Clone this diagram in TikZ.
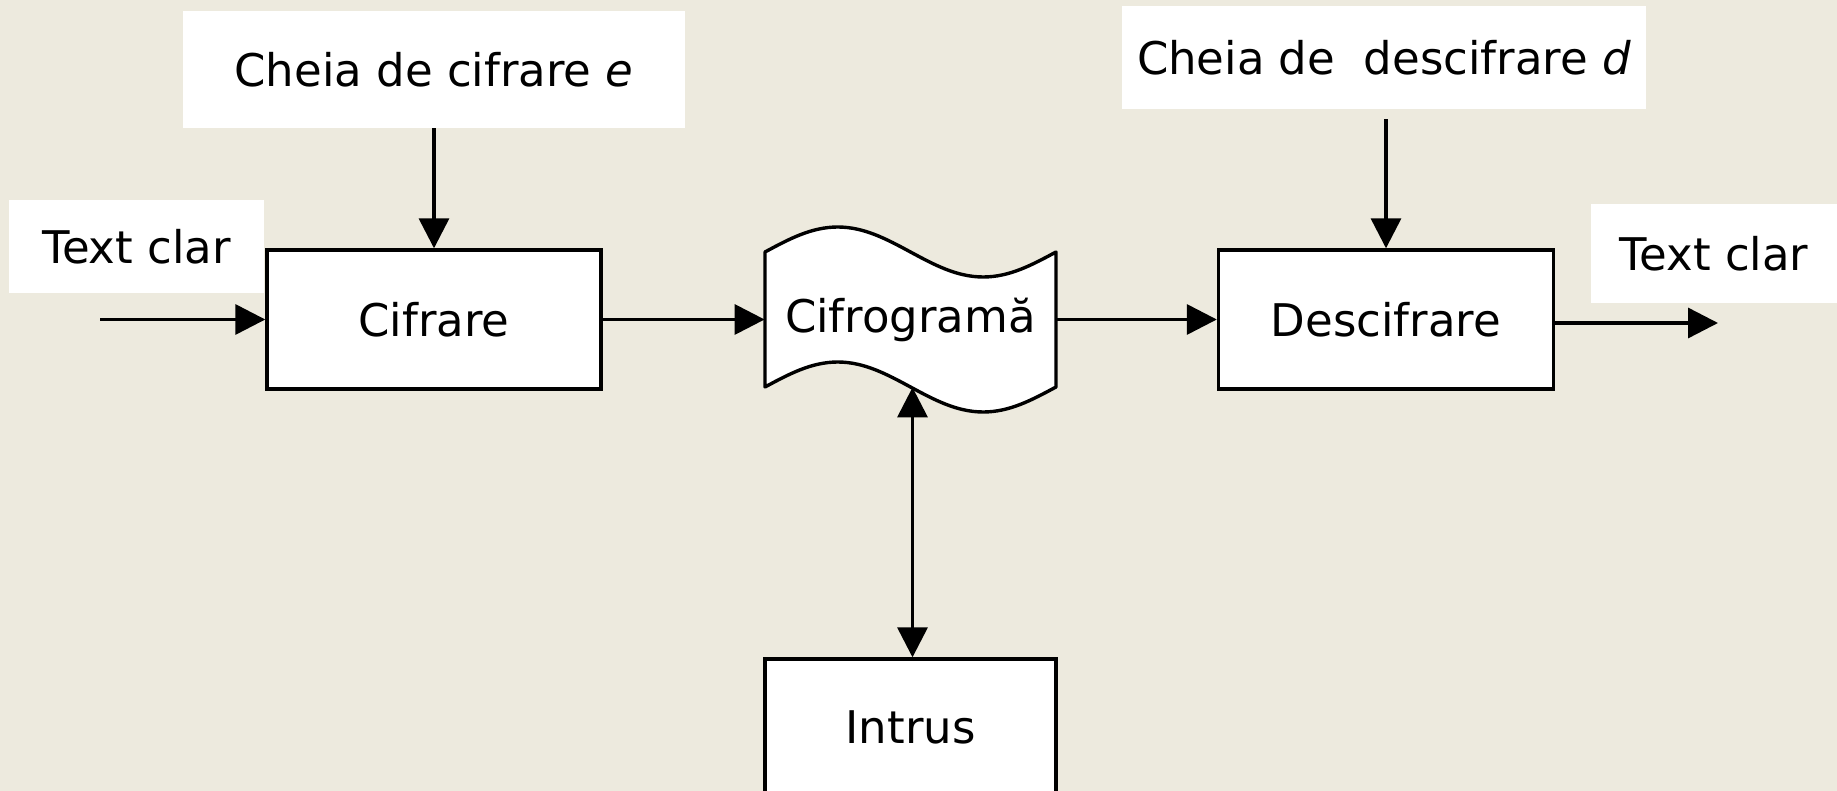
\documentclass[tikz,border=0pt]{standalone}
\usepackage{fontspec}
\setmainfont{DejaVu Sans}
\usetikzlibrary{arrows.meta}
\definecolor{bgc}{RGB}{237,234,222}
\tikzset{
  txt/.style={font=\fontsize{22.5}{27}\selectfont, inner sep=0pt},
  labelbox/.style={txt, fill=white, draw=none},
  procbox/.style={txt, fill=white, draw=black, line width=1.7pt},
  arr/.style={-{Triangle[length=15pt,width=15pt]}, line width=1.7pt},
  darr/.style={{Triangle[length=15pt,width=15pt]}-{Triangle[length=15pt,width=15pt]}, line width=1.7pt}
}
\begin{document}
\begin{tikzpicture}[x=0.5pt,y=-0.5pt]
\useasboundingbox[fill=bgc] (0,0) rectangle (1837,791);
% label boxes
\node[labelbox, minimum width=251pt, minimum height=58.5pt] (ke) at (434,69.5) {Cheia de cifrare \textit{e}};
\node[labelbox, minimum width=262pt, minimum height=51.5pt] (kd) at (1384,57.5) {Cheia de\ \ descifrare \textit{d}};
\node[labelbox, minimum width=127.5pt, minimum height=46.5pt] (tl) at (136.5,246.5) {Text clar};
\node[labelbox, minimum width=123pt, minimum height=49.5pt] (tr) at (1714,253.5) {Text clar};
% process boxes
\node[procbox, minimum width=167pt, minimum height=69.5pt] (cif) at (434,319.5) {Cifrare};
\node[procbox, minimum width=167.5pt, minimum height=69.5pt] (desc) at (1386,319.5) {Descifrare};
\node[procbox, minimum width=145.5pt, minimum height=68pt] (intr) at (910.5,727) {Intrus};
% cifrograma wave shape
\fill[white] (765,252) sin (837.75,227) cos (910.5,252) sin (983.25,277) cos (1056,252)
  -- (1056,387) sin (983.25,412) cos (910.5,387) sin (837.75,362) cos (765,387) -- cycle;
\draw[line width=1.7pt, line join=round] (765,252) sin (837.75,227) cos (910.5,252) sin (983.25,277) cos (1056,252)
  -- (1056,387) sin (983.25,412) cos (910.5,387) sin (837.75,362) cos (765,387) -- cycle;
\node[txt, minimum width=145.5pt, minimum height=67.5pt] (cg) at (910.5,319.5) {Cifrogramă};
% connectors
\coordinate (in) at (100,319.5);
\coordinate (out) at (1718,323);
\draw[arr] (in) -- (cif.west);
\draw[arr] (ke.south) -- (cif.north);
\draw[arr] (cif.east) -- (cg.west);
\draw[arr] (cg.east) -- (desc.west);
\draw[arr] ([yshift=-5pt]kd.south -| desc.north) -- (desc.north);
\draw[arr] (desc.east |- out) -- (out);
\draw[darr] ([xshift=1pt]cg.south) -- ([xshift=1pt]intr.north);
\end{tikzpicture}
\end{document}
